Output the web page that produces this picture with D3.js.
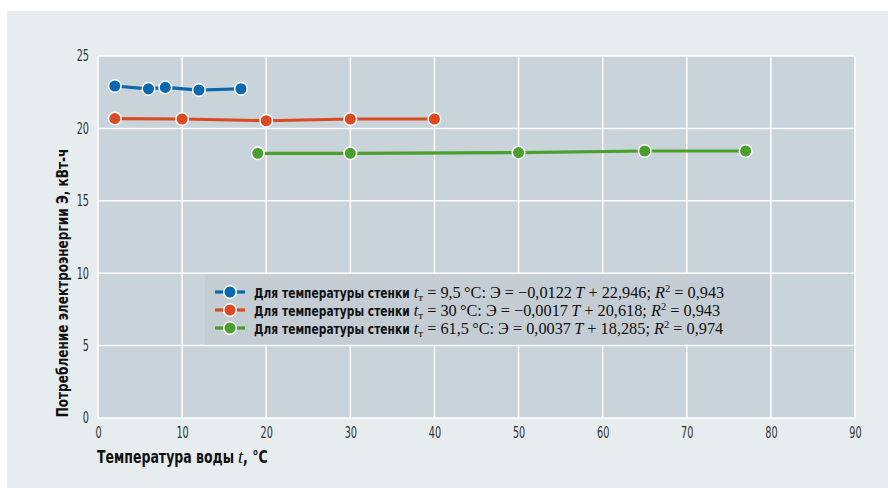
<!DOCTYPE html>
<html>
<head>
<meta charset="utf-8">
<script src="https://cdn.jsdelivr.net/npm/d3@7"></script>
<style>
  html, body { margin: 0; padding: 0; background: #ffffff; }
  svg { display: block; }
</style>
</head>
<body>
<svg id="chart" width="888" height="488"></svg>
<script>
// Electric energy use vs. water temperature for three wall temperatures
const xTicks = [0, 10, 20, 30, 40, 50, 60, 70, 80, 90];
const yTicks = [0, 5, 10, 15, 20, 25];

const seriesNames = ["9,5", "30", "61,5"];
const seriesColors = ["#0a68ae", "#dc4a22", "#4c9f2e"];

const tempCold = [2, 6, 8, 12, 17];
const energyCold = [22.93, 22.73, 22.83, 22.65, 22.74];

const tempMid = [2, 10, 20, 30, 40];
const energyMid = [20.68, 20.65, 20.53, 20.65, 20.65];

const tempHot = [19, 30, 50, 65, 77];
const energyHot = [18.28, 18.28, 18.33, 18.44, 18.44];

const fitSlope = ["\u22120,0122", "\u22120,0017", "0,0037"];
const fitIntercept = ["22,946", "20,618", "18,285"];
const fitR2 = ["0,943", "0,943", "0,974"];

const legendLead = "Для температуры стенки";
const xTitleLead = "Температура воды";
const xTitleTail = ", °C";
const yTitle = "Потребление электроэнергии Э, кВт-ч";

const series = [
  { t: tempCold, e: energyCold },
  { t: tempMid, e: energyMid },
  { t: tempHot, e: energyHot }
].map((s, i) => ({
  name: seriesNames[i], color: seriesColors[i],
  points: s.t.map((t, j) => ({ t, e: s.e[j] }))
}));

const svg = d3.select("#chart");
const W = 888, H = 488;
const plot = { left: 98, right: 855, top: 56, bottom: 418 };

const condensed = "'DejaVu Sans Condensed', 'DejaVu Sans', sans-serif";
const serif = "'Liberation Serif', 'DejaVu Serif', serif";
const narrow = 0.82;   // horizontal squeeze for the bold condensed face
const tickNarrow = 0.72;

// outer panel
svg.append("rect").attr("x", 0).attr("y", 0).attr("width", W).attr("height", H).attr("fill", "#ffffff");
svg.append("rect").attr("x", 7).attr("y", 11).attr("width", W - 7).attr("height", H - 11).attr("fill", "#e7ecef");

const x = d3.scaleLinear().domain([0, 90]).range([plot.left, plot.right]);
const y = d3.scaleLinear().domain([0, 25]).range([plot.bottom, plot.top]);

// plot background
svg.append("rect")
  .attr("x", x(0)).attr("y", y(25))
  .attr("width", x(90) - x(0)).attr("height", y(0) - y(25))
  .attr("fill", "#c8d3da");

// grid
const grid = svg.append("g");
grid.selectAll("line.v").data(xTicks).join("line")
  .attr("x1", d => x(d)).attr("x2", d => x(d))
  .attr("y1", y(0)).attr("y2", y(25))
  .attr("stroke", "#ffffff").attr("stroke-width", 1.5);
grid.selectAll("line.h").data(yTicks).join("line")
  .attr("y1", d => y(d)).attr("y2", d => y(d))
  .attr("x1", x(0)).attr("x2", x(90))
  .attr("stroke", "#ffffff").attr("stroke-width", 1.5);

// axes (labels only)
const xAxis = svg.append("g")
  .attr("transform", `translate(0,${plot.bottom})`)
  .call(d3.axisBottom(x).tickValues(xTicks).tickSize(0).tickPadding(9).tickFormat(d3.format("d")));
xAxis.select(".domain").remove();
xAxis.selectAll("text").attr("font-family", condensed).attr("font-size", 15).attr("fill", "#333")
  .attr("transform", `scale(${tickNarrow},1)`);

const yAxis = svg.append("g")
  .attr("transform", `translate(${plot.left},0)`)
  .call(d3.axisLeft(y).tickValues(yTicks).tickSize(0).tickPadding(9 / tickNarrow).tickFormat(d3.format("d")));
yAxis.select(".domain").remove();
yAxis.selectAll("text").attr("font-family", condensed).attr("font-size", 15).attr("fill", "#333")
  .attr("transform", `scale(${tickNarrow},1)`);

// helper: write a run of squeezed bold text, returns its drawn width
function boldRun(parent, px, py, str, size) {
  const t = parent.append("text")
    .attr("transform", `translate(${px},${py}) scale(${narrow},1)`)
    .attr("font-family", condensed).attr("font-weight", "bold").attr("font-size", size)
    .attr("fill", "#111").attr("xml:space", "preserve").text(str);
  return t.node().getComputedTextLength() * narrow;
}

// x axis title
{
  let px = 97;
  const py = 463;
  px += boldRun(svg, px, py, xTitleLead, 17) + 4;
  const ti = svg.append("text").attr("x", px).attr("y", py)
    .attr("font-family", serif).attr("font-style", "italic").attr("font-size", 18).attr("fill", "#111").text("t");
  px += ti.node().getComputedTextLength();
  boldRun(svg, px, py, xTitleTail, 17);
}

// y axis title
svg.append("text")
  .attr("transform", `translate(68,${(plot.top + plot.bottom) / 2 + 46}) rotate(-90) scale(${narrow},1)`)
  .attr("text-anchor", "middle")
  .attr("font-family", condensed).attr("font-weight", "bold").attr("font-size", 16.4).attr("fill", "#111")
  .text(yTitle);

// series lines and markers
const line = d3.line().x(d => x(d.t)).y(d => y(d.e));
series.forEach(s => {
  const g = svg.append("g");
  g.append("path").datum(s.points)
    .attr("d", line).attr("fill", "none")
    .attr("stroke", s.color).attr("stroke-width", 3.2);
  g.selectAll("circle").data(s.points).join("circle")
    .attr("cx", d => x(d.t)).attr("cy", d => y(d.e)).attr("r", 6.3)
    .attr("fill", s.color).attr("stroke", "#ffffff").attr("stroke-width", 1.5);
});

// legend
const leg = svg.append("g");
leg.append("rect")
  .attr("x", 205).attr("y", y(10) + 1).attr("width", x(80) - 205 - 1).attr("height", y(5) - y(10) - 2)
  .attr("fill", "#c4cdd3");

const rowY = [292, 310, 328];
series.forEach((s, i) => {
  const cy = rowY[i];
  leg.append("line").attr("x1", 215).attr("x2", 245).attr("y1", cy).attr("y2", cy)
    .attr("stroke", s.color).attr("stroke-width", 3.2);
  leg.append("circle").attr("cx", 230).attr("cy", cy).attr("r", 6.3)
    .attr("fill", s.color).attr("stroke", "#ffffff").attr("stroke-width", 1.5);
  const by = cy + 5.5;
  const w = boldRun(leg, 254, by, legendLead, 14.5);
  const sf = serif;
  const t = leg.append("text").attr("x", 254 + w + 4).attr("y", by).attr("fill", "#111")
    .attr("font-family", sf).attr("font-size", 16.3);
  t.append("tspan").attr("font-style", "italic").text("t");
  t.append("tspan").attr("font-size", 11).attr("dy", 3).text("т");
  t.append("tspan").attr("dy", -3).text(` = ${s.name}\u2009°C: Э = ${fitSlope[i]}\u2009`);
  t.append("tspan").attr("font-style", "italic").text("T");
  t.append("tspan").text(` + ${fitIntercept[i]}; `);
  t.append("tspan").attr("font-style", "italic").text("R");
  t.append("tspan").attr("font-size", 10.5).attr("dy", -6).text("2");
  t.append("tspan").attr("dy", 6).text(` = ${fitR2[i]}`);
});
</script>
</body>
</html>
